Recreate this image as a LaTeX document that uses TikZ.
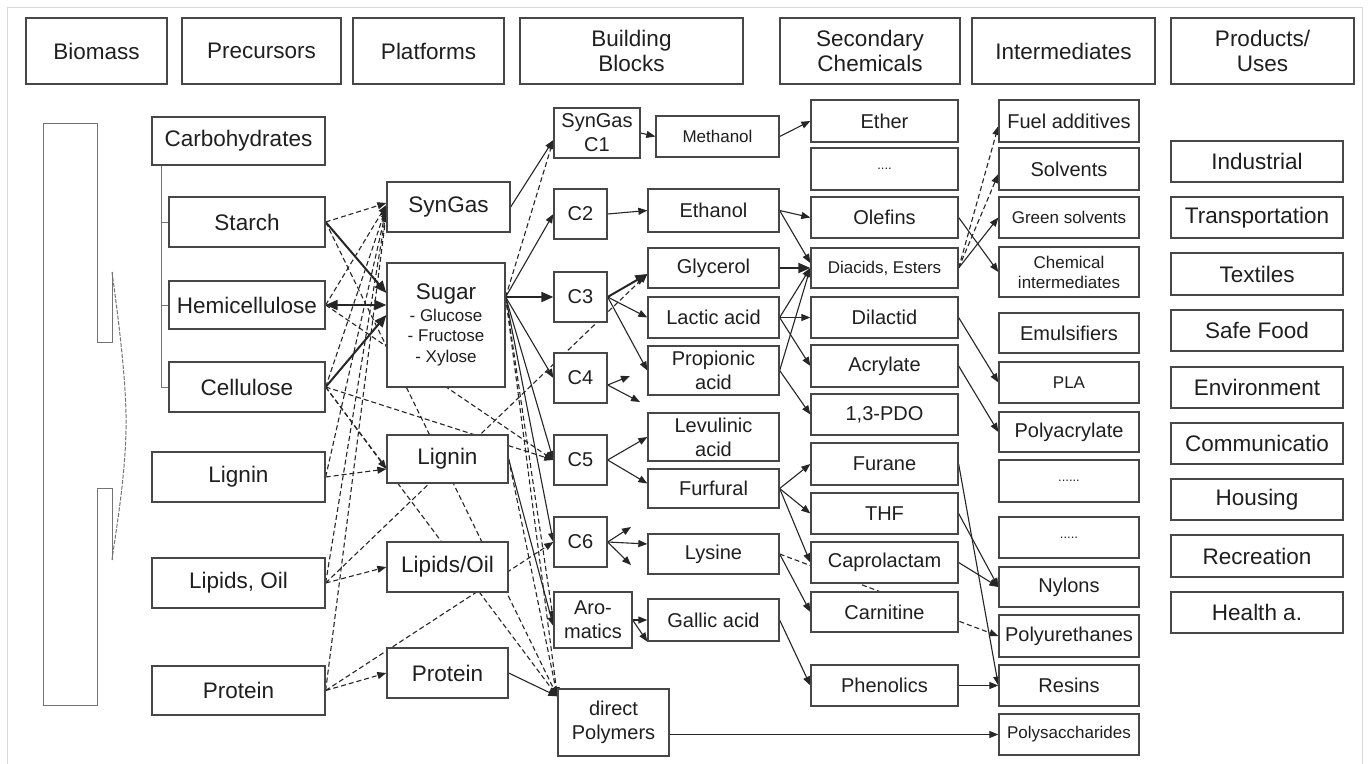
\documentclass[tikz,border=0pt]{standalone}
\usepackage{fontspec}
\setmainfont{Liberation Sans}
\usetikzlibrary{arrows.meta,calc}
\pgfdeclarelayer{bg}
\pgfsetlayers{bg,main}
\newcommand{\mybox}[7][]{\node[bx,#1,minimum width={(#5-#3)*1pt},minimum height={(#6-#4)*1pt}] (#2) at ({(#3+#5)/2},{(#4+#6)/2}) {#7};}
\newcommand{\smf}{\fontsize{17}{20}\selectfont}
\begin{document}
\begin{tikzpicture}[x=1pt,y=-1pt,
  bx/.style={draw=black!72, line width=1.3pt, fill=white, inner sep=0pt, align=center, text=black!88, font=\fontsize{20}{24}\selectfont},
  fL/.style={font=\fontsize{22.5}{24.5}\selectfont},
  fM/.style={font=\fontsize{20}{24}\selectfont},
  fS/.style={font=\fontsize{17}{20}\selectfont},
  fD/.style={font=\fontsize{13}{15}\selectfont},
  con/.style={draw=black!85, line width=1.1pt, -{Triangle[length=9pt,width=7pt]}},
  dcon/.style={con, dash pattern=on 5pt off 3pt},
  thk/.style={draw=black!85, line width=2pt, -{Triangle[length=12pt,width=10pt]}},
  shp/.style={draw=black!55, line width=1pt}
]
\useasboundingbox (0,0) rectangle (1368,763);
\begin{pgfonlayer}{bg}
\fill[white] (0,0) rectangle (1368,763);
\draw[black!15, line width=1pt] (7,770) -- (7,7) -- (1362,7) -- (1362,770);
\end{pgfonlayer}

% header
\mybox[fL]{hBio}{26}{18}{167}{84}{Biomass}
\mybox[fL]{hPre}{182}{18}{341}{84}{Precursors}
\mybox[fL]{hPla}{353}{18}{504}{84}{Platforms}
\mybox[fL]{hBB}{520}{18}{743}{84}{Building\\Blocks}
\mybox[fL]{hSec}{780}{18}{960}{84}{Secondary\\Chemicals}
\mybox[fL]{hInt}{972}{18}{1155}{84}{Intermediates}
\mybox[fL]{hPro}{1171}{18}{1354}{84}{Products/\\Uses}

% biomass shape
\draw[shp] (112,272) -- (112,342) -- (97,342) -- (97,123) -- (43,123) -- (43,705) -- (97,705) -- (97,488) -- (112,488) -- (112,560);
\draw[shp, dash pattern=on 4pt off 1.5pt] (112,272) .. controls (120,330) and (127,390) .. (126,430) .. controls (125,480) and (116,530) .. (112,560);

% precursors
\mybox[fL]{carb}{152}{117}{325}{165}{Carbohydrates}
\mybox[fL]{starch}{169}{197}{325}{247}{Starch}
\mybox[fL]{hemi}{169}{281}{325}{329}{Hemicellulose}
\mybox[fL]{cell}{169}{362}{325}{412}{Cellulose}
\mybox[fL]{ligP}{152}{452}{325}{502}{Lignin}
\mybox[fL]{lipP}{152}{558}{325}{608}{Lipids, Oil}
\mybox[fL]{proP}{152}{666}{325}{715}{Protein}
\draw[shp] ([xshift=10pt]carb.south west) |- (cell.west);
\draw[shp] ([xshift=10pt]carb.south west |- starch.west) -- (starch.west);
\draw[shp] ([xshift=10pt]carb.south west |- hemi.west) -- (hemi.west);

% platforms
\mybox[fL]{syn}{387}{182}{510}{232}{SynGas}
\mybox[fL]{sugar}{387}{263}{505}{387}{Sugar\\[-3pt]{\smf - Glucose}\\[-4pt]{\smf - Fructose}\\[-4pt]{\smf - Xylose}}
\mybox[fL]{lig}{387}{435}{508}{483}{Lignin}
\mybox[fL]{lip}{387}{542}{508}{592}{Lipids/Oil}
\mybox[fL]{pro}{387}{648}{508}{698}{Protein}

% building blocks
\mybox[fM]{sc1}{554}{108}{640}{158}{SynGas\\C1}
\mybox[fS]{meth}{656}{116}{779}{157}{Methanol}
\mybox[fM]{c2}{554}{189}{607}{239}{C2}
\mybox[fM]{eth}{648}{189}{779}{232}{Ethanol}
\mybox[fM]{c3}{554}{272}{607}{322}{C3}
\mybox[fM]{gly}{648}{248}{779}{288}{Glycerol}
\mybox[fM]{lac}{648}{297}{779}{338}{Lactic acid}
\mybox[fM]{prop}{648}{346}{779}{395}{Propionic\\acid}
\mybox[fM]{c4}{554}{353}{607}{403}{C4}
\mybox[fM]{c5}{554}{435}{607}{485}{C5}
\mybox[fM]{lev}{648}{413}{779}{461}{Levulinic\\acid}
\mybox[fM]{fur}{648}{469}{779}{508}{Furfural}
\mybox[fM]{c6}{554}{517}{607}{567}{C6}
\mybox[fM]{lys}{648}{534}{779}{574}{Lysine}
\mybox[fM]{arom}{554}{592}{632}{648}{Aro-\\matics}
\mybox[fM]{gal}{648}{599}{779}{641}{Gallic acid}
\mybox[fM]{dpoly}{558}{689}{669}{756}{direct\\Polymers}

% secondary chemicals
\mybox[fM]{ether}{811}{100}{958}{142}{Ether}
\mybox[fD]{dotsA}{811}{148}{958}{190}{....}
\mybox[fM]{olef}{811}{197}{958}{238}{Olefins}
\mybox[fS]{diac}{811}{248}{958}{288}{Diacids, Esters}
\mybox[fM]{dilac}{811}{297}{958}{338}{Dilactid}
\mybox[fM]{acry}{811}{345}{958}{387}{Acrylate}
\mybox[fM]{pdo}{811}{394}{958}{435}{1,3-PDO}
\mybox[fM]{furane}{811}{443}{958}{485}{Furane}
\mybox[fM]{thf}{811}{493}{958}{534}{THF}
\mybox[fM]{capro}{811}{542}{958}{583}{Caprolactam}
\mybox[fM]{carn}{811}{592}{958}{632}{Carnitine}
\mybox[fM]{phen}{811}{665}{958}{706}{Phenolics}

% intermediates
\mybox[fM]{fuel}{999}{100}{1139}{142}{Fuel additives}
\mybox[fM]{solv}{999}{148}{1139}{190}{Solvents}
\mybox[fS]{green}{999}{197}{1139}{238}{Green solvents}
\mybox[fS]{chem}{999}{247}{1139}{297}{Chemical\\intermediates}
\mybox[fM]{emul}{999}{313}{1139}{353}{Emulsifiers}
\mybox[fS]{pla}{999}{362}{1139}{403}{PLA}
\mybox[fM]{polyac}{999}{412}{1139}{452}{Polyacrylate}
\mybox[fD]{dotsB}{999}{460}{1139}{502}{......}
\mybox[fD]{dotsC}{999}{517}{1139}{558}{.....}
\mybox[fM]{nyl}{999}{567}{1139}{607}{Nylons}
\mybox[fM]{pu}{999}{615}{1139}{657}{Polyurethanes}
\mybox[fM]{resins}{999}{665}{1139}{706}{Resins}
\mybox[fS]{psac}{999}{714}{1139}{755}{Polysaccharides}

% products
\mybox[fL]{ind}{1171}{141}{1343}{182}{Industrial}
\mybox[fL]{trans}{1171}{197}{1343}{238}{Transportation}
\mybox[fL]{texs}{1171}{253}{1343}{295}{Textiles}
\mybox[fL]{safe}{1171}{310}{1343}{351}{Safe Food}
\mybox[fL]{env}{1171}{367}{1343}{408}{Environment}
\mybox[fL]{comm}{1171}{423}{1343}{464}{Communicatio}
\mybox[fL]{hous}{1171}{479}{1343}{520}{Housing}
\mybox[fL]{recr}{1171}{535}{1343}{577}{Recreation}
\mybox[fL]{heal}{1171}{592}{1343}{633}{Health a.}

\begin{pgfonlayer}{bg}
% precursors -> platforms
\draw[dcon] (starch.east) -- ([yshift=4pt]syn.west);
\draw[thk] (starch.east) -- ([yshift=32pt]sugar.west);
\draw[dcon] (starch.east) -- ([yshift=-8pt]dpoly.north west);
\draw[thk,{Triangle[length=12pt,width=10pt]}-{Triangle[length=12pt,width=10pt]}] (hemi.east) -- ([yshift=20pt]sugar.west);
\draw[dcon] (hemi.east) -- ([yshift=2pt]syn.west);
\draw[dcon] (hemi.east) -- (c5.west);
\draw[thk] (cell.east) -- ([yshift=10pt]sugar.west);
\draw[dcon] (cell.east) -- (syn.west);
\draw[dcon] (cell.east) -- ([yshift=-10pt]lig.west);
\draw[dcon] (cell.east) -- (c5.west);
\draw[dcon] (cell.east) -- ([yshift=-8pt]dpoly.north west);
\draw[dcon] (ligP.east) -- ([yshift=-2pt]syn.west);
\draw[dcon] (ligP.east) -- ([yshift=-10pt]lig.west);
\draw[dcon] (lipP.east) -- ([yshift=-4pt]syn.west);
\draw[dcon] (lipP.east) -- (lip.west);
\draw[dcon] (lipP.east) -- ([yshift=-6pt]gly.west);
\draw[dcon] (proP.east) -- ([yshift=-6pt]syn.west);
\draw[dcon] (proP.east) -- (pro.west);
\draw[dcon] (proP.east) -- (c6.west);
% platforms -> building blocks
\coordinate (sf) at ([yshift=28pt]sugar.east);
\draw[con] (syn.east) -- ([yshift=-7pt]sc1.west);
\draw[dcon] (sf) -- ([yshift=-7pt]sc1.west);
\draw[con] (sf) -- (c2.west);
\draw[thk] (sf) -- (c3.west);
\draw[con] (sf) -- (c4.west);
\draw[con] (sf) -- (c5.west);
\draw[con] (sf) -- (c6.west);
\draw[dcon] (sf) -- (arom.west);
\draw[dcon] (sf) -- ([yshift=-8pt]dpoly.north west);
\draw[con] (lig.east) -- ([yshift=-6pt]arom.west);
\draw[dcon] (lig.east) -- ([yshift=-8pt]dpoly.north west);
\draw[con] (pro.east) -- ([yshift=-8pt]dpoly.north west);
% building blocks -> secondary
\draw[con] (sc1.east) -- (meth.west);
\draw[con] (meth.east) -- (ether.west);
\draw[con] (c2.east) -- (eth.west);
\draw[con] (eth.east) -- (olef.west);
\draw[con] (eth.east) -- ([yshift=5pt]diac.west);
\draw[thk] (c3.east) -- ([yshift=-6pt]gly.west);
\draw[con] (c3.east) -- (lac.west);
\draw[con] (c3.east) -- (prop.west);
\coordinate (c4s) at ([yshift=-7pt]c4.east);
\coordinate (c4a) at (630,376);
\coordinate (c4b) at (640,402);
\draw[con] (c4s) -- (c4a);
\draw[con] (c4s) -- (c4b);
\draw[con] (c5.east) -- (lev.west);
\draw[con] (c5.east) -- ([yshift=5pt]fur.west);
\coordinate (c6a) at (631,527);
\coordinate (c6b) at (631,565);
\draw[con] (c6.east) -- (c6a);
\draw[con] (c6.east) -- (c6b);
\draw[con] (c6.east) -- ([yshift=10pt]lys.west);
\draw[con] (arom.east) -- (gal.west);
\draw[con] (arom.east) -- (gal.south west);
\draw[thk] (gly.east) -- (diac.west);
\draw[con] (lac.east) -- (diac.west);
\draw[con] (lac.east) -- (dilac.west);
\draw[con] (lac.east) -- (acry.west);
\draw[con] (prop.east) -- (diac.west);
\draw[con] (prop.east) -- (pdo.west);
\draw[con] (fur.east) -- (furane.west);
\draw[con] (fur.east) -- (thf.west);
\draw[con] (fur.east) -- (capro.west);
\draw[con] (lys.east) -- (carn.west);
\draw[dcon] (lys.east) -- (pu.west);
\draw[con] (gal.east) -- (phen.west);
\draw[con] (dpoly.east |- psac.west) -- (psac.west);
% secondary -> intermediates
\draw[con] (olef.east) -- (chem.west);
\draw[dcon] (diac.east) -- ([yshift=-5pt]fuel.west);
\draw[dcon] (diac.east) -- ([yshift=-5pt]solv.west);
\draw[con] (diac.east) -- (green.west);
\draw[con] (dilac.east) -- (pla.west);
\draw[con] (acry.east) -- (polyac.west);
\draw[con] (furane.east) -- (resins.west);
\draw[con] (thf.east) -- (nyl.west);
\draw[con] (capro.east) -- (nyl.west);
\draw[con] (phen.east) -- (resins.west);
\end{pgfonlayer}
\end{tikzpicture}
\end{document}
